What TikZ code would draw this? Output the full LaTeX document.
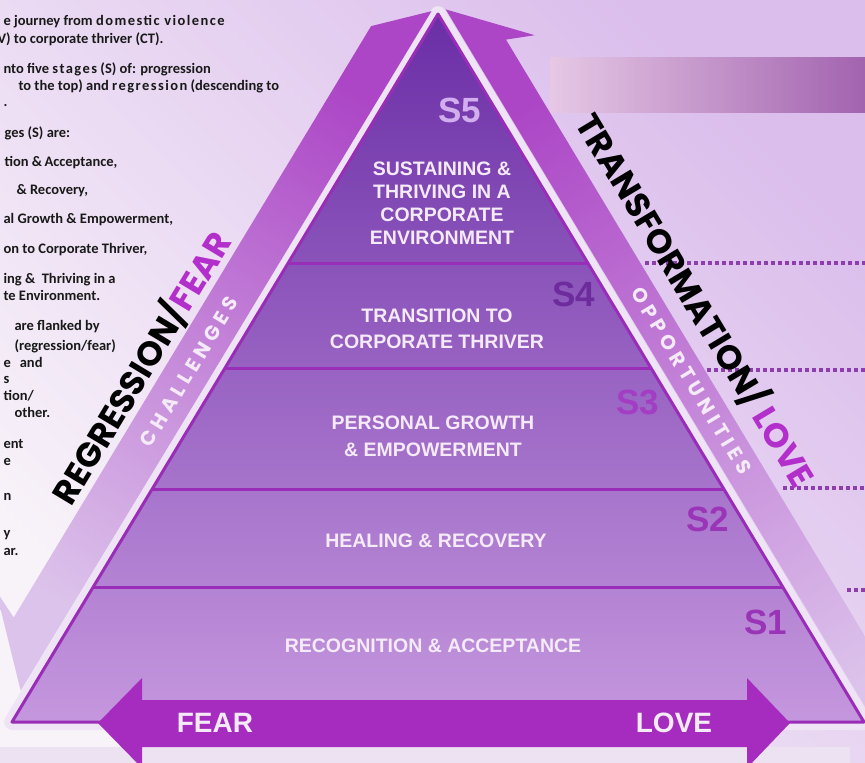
\documentclass[tikz,border=0pt]{standalone}
\usepackage{fontspec}
\setmainfont{Liberation Sans}
\newfontfamily\bodyfont{Carlito}
\newfontfamily\geofont{Poppins}
\usetikzlibrary{calc}

\definecolor{bgtop}{HTML}{DBBEEC}
\definecolor{bgbot}{HTML}{F8F3F9}
\definecolor{gapcol}{HTML}{EFE4F6}
\definecolor{tiertop}{HTML}{6A2EA6}
\definecolor{tiermid}{HTML}{9C5FC9}
\definecolor{tierbot}{HTML}{C597DE}
\definecolor{tierline}{HTML}{9A2DB8}
\definecolor{bandtop}{HTML}{AC46C6}
\definecolor{bandmid}{HTML}{C48FD8}
\definecolor{bandbot}{HTML}{DCC3EB}
\definecolor{barleft}{HTML}{E6C8E5}
\definecolor{barright}{HTML}{A263AF}
\definecolor{arrowcol}{HTML}{A52CBF}
\definecolor{stripcol}{HTML}{ECE2F1}
\definecolor{labelcol}{HTML}{F4EAF8}
\definecolor{magentatxt}{HTML}{B22FCB}
\definecolor{dotcol}{HTML}{8C3FAC}
\definecolor{sfive}{HTML}{D3AEEE}
\definecolor{sfour}{HTML}{6C2C9C}
\definecolor{sthree}{HTML}{A23DC4}
\definecolor{stwo}{HTML}{9B35B8}
\definecolor{sone}{HTML}{9A34B6}

\newcommand\wide[1]{{\addfontfeature{LetterSpace=10}#1}}

\begin{document}
\begin{tikzpicture}[x=1pt,y=-1pt]
    \tikzset{
        stageline/.style={tierline,line width=3pt},
        tierlabel/.style={text=labelcol,align=center,font=\fontsize{19.5}{23}\selectfont\bfseries},
        stagetag/.style={font=\fontsize{35}{35}\selectfont\bfseries},
        dotline/.style={dotcol,line width=3.4pt,dash pattern=on 3.5pt off 3.5pt},
        bandtext/.style={text=labelcol,font=\geofont\bfseries\fontsize{20}{20}\selectfont\addfontfeature{LetterSpace=24}},
        sidetext/.style={font=\geofont\bfseries\fontsize{34}{34}\selectfont},
        notes/.style={anchor=base west,text=black!90,font=\bodyfont\bfseries\fontsize{14.5}{17}\selectfont},
        bigword/.style={text=labelcol,font=\fontsize{28}{28}\selectfont\bfseries}}
    \useasboundingbox (0,0) rectangle (865,763);

    % backdrop and the bar at the top right
    \shade[top color=bgtop,bottom color=bgbot,shading angle=-45] (0,0) rectangle (865,763);
    \shade[left color=barleft,right color=barright] (550,57) rectangle (865,112);
    \fill[stripcol] (0,747) rectangle (850,763);

    \coordinate (A) at (438,14);
    \coordinate (BL) at (12,722);
    \coordinate (BR) at (864,722);
    \def\pyramid{(A) -- (BR) -- (BL) -- cycle}

    % light gap round the pyramid
    \draw[gapcol,line width=16pt,line join=round] \pyramid;

    % side bands, both running parallel to the pyramid
    \shade[top color=bandtop,middle color=bandmid,bottom color=bandbot,shading angle=-31]
        (431.5,11.2) -- (371.1,26.1) -- (13.7,617.5) -- (-4.0,590.5) -- (20.7,690.8) -- cycle;
    \shade[top color=bandtop,middle color=bandmid,bottom color=bandbot,shading angle=31]
        (445.7,9.4) -- (534.8,35.2) -- (506,39.6) -- (940.6,762) -- (909.7,780.6) -- cycle;

    % the five stages
    \shade[top color=tiertop,middle color=tiermid,bottom color=tierbot] \pyramid;
    \foreach \t in {0.3517,0.5,0.6723,0.8107}
        \draw[stageline] ($(A)!\t!(BL)$) -- ($(A)!\t!(BR)$);
    \draw[stageline,line join=round] \pyramid;

    \node[tierlabel] (t5) at (442,203.5) {SUSTAINING \&\\THRIVING IN A\\CORPORATE\\ENVIRONMENT};
    \node[tierlabel,font=\fontsize{19.5}{26}\selectfont\bfseries] (t4) at (437,328.5) {TRANSITION TO\\CORPORATE THRIVER};
    \node[tierlabel,font=\fontsize{19.5}{27}\selectfont\bfseries] (t3) at (433,436) {PERSONAL GROWTH\\\& EMPOWERMENT};
    \node[tierlabel] (t2) at (436,541) {HEALING \& RECOVERY};
    \node[tierlabel] (t1) at (433,646) {RECOGNITION \& ACCEPTANCE};

    \node[stagetag,text=sfive] (s5) at (460,110) {S5};
    \node[stagetag,text=sfour] (s4) at (574,294) {S4};
    \node[stagetag,text=sthree] (s3) at (638,402) {S3};
    \node[stagetag,text=stwo] (s2) at (708,519) {S2};
    \node[stagetag,text=sone] (s1) at (766,622) {S1};

    % dotted leaders to the right
    \foreach \yy/\xx [count=\i] in {263/645,370/707,488/783,590/847} {
        \coordinate (d\i) at (\xx,\yy);
        \coordinate (e\i) at (865,\yy);
        \draw[dotline] (d\i) -- (e\i);
    }

    % words along the sides
    \node[sidetext,rotate=58.85] (regr) at (141,368) {REGRESSION/\textcolor{magentatxt}{FEAR}};
    \node[bandtext,rotate=58.85] (chal) at (189,371.8) {CHALLENGES};
    \node[sidetext,rotate=-58.96] (trans) at (696,300) {TRANSFORMATION/ \textcolor{magentatxt}{LOVE}};
    \node[bandtext,rotate=-58.96] (opp) at (691.4,380.9) {OPPORTUNITIES};

    % fear -- love arrow
    \fill[arrowcol] (98,723) -- (142,678) -- (142,700) -- (747,700) -- (747,678) -- (790,723)
        -- (747,768) -- (747,747) -- (142,747) -- (142,768) -- cycle;
    \node[bigword] (fear) at (215,723) {FEAR};
    \node[bigword] (love) at (674,723) {LOVE};

    % notes on the left
    \foreach \yy/\xx/\txt [count=\i] in {
        25/0/{e journey from \wide{domestic violence}},
        43/-6/{V) to corporate thriver (CT).},
        73/0/{nto five \wide{stages} (S) of: progression},
        90/15/{to the top) and \wide{regression} (descending to},
        106/0/{.},
        137/1/{ges (S) are:},
        166/1/{tion \&\,Acceptance,},
        194/13/{\& Recovery,},
        223/0/{al Growth \& Empowerment,},
        253/0/{on to Corporate Thriver,},
        283/0/{ing \&~~Thriving in a},
        300/0/{te Environment.},
        330/11/{are flanked by},
        350/11/{(regression/fear)},
        367/0/{e\hspace{9pt}and},
        383/0/{s},
        400/0/{tion/},
        417/11/{other.},
        448/0/{ent},
        465/0/{e},
        500/0/{n},
        537/0/{y},
        555/0/{ar.}}
        \node[notes] (note\i) at (\xx,\yy) {\txt};
\end{tikzpicture}
\end{document}
